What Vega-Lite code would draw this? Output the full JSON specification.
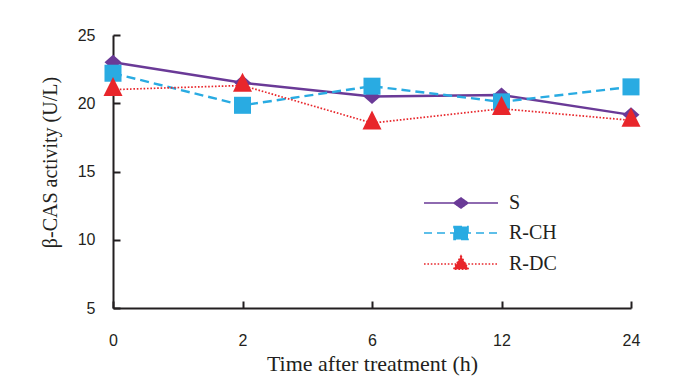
{
  "$schema": "https://vega.github.io/schema/vega-lite/v6.json",
  "width": 518,
  "height": 273,
  "autosize": {"type": "none"},
  "padding": {"left": 113, "top": 35, "right": 44, "bottom": 69},
  "background": "white",
  "config": {"view": {"stroke": null}, "axis": {"grid": false}},
  "data": {
    "values": [
      {"time": 0, "series": "S", "value": 23.0},
      {"time": 2, "series": "S", "value": 21.5},
      {"time": 6, "series": "S", "value": 20.5},
      {"time": 12, "series": "S", "value": 20.6},
      {"time": 24, "series": "S", "value": 19.15},
      {"time": 0, "series": "R-CH", "value": 22.2},
      {"time": 2, "series": "R-CH", "value": 19.85},
      {"time": 6, "series": "R-CH", "value": 21.25},
      {"time": 12, "series": "R-CH", "value": 20.1},
      {"time": 24, "series": "R-CH", "value": 21.2},
      {"time": 0, "series": "R-DC", "value": 21.0},
      {"time": 2, "series": "R-DC", "value": 21.3},
      {"time": 6, "series": "R-DC", "value": 18.55},
      {"time": 12, "series": "R-DC", "value": 19.6},
      {"time": 24, "series": "R-DC", "value": 18.75}
    ]
  },
  "encoding": {
    "x": {
      "field": "time",
      "type": "ordinal",
      "scale": {"type": "point", "domain": [0, 2, 6, 12, 24], "padding": 0},
      "axis": {
        "title": "Time after treatment (h)",
        "titleFont": "Liberation Serif",
        "titleFontSize": 22,
        "titleFontWeight": "normal",
        "titleColor": "#231F20",
        "titleBaseline": "alphabetic",
        "titleY": 62,
        "labelAngle": 0,
        "labelFont": "Liberation Sans",
        "labelFontSize": 16,
        "labelColor": "#231F20",
        "labelPadding": 31,
        "tickSize": -7,
        "tickWidth": 2,
        "tickColor": "#231F20",
        "domainColor": "#231F20",
        "domainWidth": 2
      }
    },
    "y": {
      "field": "value",
      "type": "quantitative",
      "scale": {"domain": [5, 25], "nice": false, "zero": false},
      "axis": {
        "title": "β-CAS activity (U/L)",
        "titleFont": "Liberation Serif",
        "titleFontSize": 20,
        "titleFontWeight": "normal",
        "titleColor": "#231F20",
        "titleAngle": -90,
        "titleBaseline": "alphabetic",
        "titleAlign": "center",
        "titleX": -57,
        "titleY": 127,
        "values": [5, 10, 15, 20, 25],
        "labelFont": "Liberation Sans",
        "labelFontSize": 16,
        "labelColor": "#231F20",
        "labelPadding": 25,
        "tickSize": -7,
        "tickWidth": 2,
        "tickColor": "#231F20",
        "domainColor": "#231F20",
        "domainWidth": 2
      }
    }
  },
  "layer": [
    {
      "transform": [{"filter": "datum.series === 'S'"}],
      "mark": {"type": "line", "stroke": "#6A3A97", "strokeWidth": 2.4},
      "encoding": {}
    },
    {
      "transform": [{"filter": "datum.series === 'S'"}],
      "mark": {"type": "point", "filled": true, "opacity": 1, "color": "#6A3A97", "shape": "M-1,0L0,-0.88L1,0L0,0.88Z", "size": 289},
      "encoding": {}
    },
    {
      "transform": [{"filter": "datum.series === 'R-CH'"}],
      "mark": {"type": "line", "stroke": "#29ABE2", "strokeWidth": 2.4, "strokeDash": [9, 5]},
      "encoding": {}
    },
    {
      "transform": [{"filter": "datum.series === 'R-CH'"}],
      "mark": {"type": "point", "filled": true, "opacity": 1, "color": "#29ABE2", "shape": "square", "size": 290},
      "encoding": {}
    },
    {
      "transform": [{"filter": "datum.series === 'R-DC'"}],
      "mark": {"type": "line", "stroke": "#E8262B", "strokeWidth": 1.7, "strokeDash": [1.6, 1.8]},
      "encoding": {}
    },
    {
      "transform": [{"filter": "datum.series === 'R-DC'"}],
      "mark": {"type": "point", "filled": true, "opacity": 1, "color": "#E8262B", "shape": "M0,-1.33L1,0.67L-1,0.67Z", "size": 361},
      "encoding": {}
    },
    {
      "mark": {"type": "point", "filled": true, "opacity": 0},
      "encoding": {
        "color": {
          "field": "series",
          "type": "nominal",
          "scale": {"domain": ["S", "R-CH", "R-DC"], "range": ["#6A3A97", "#29ABE2", "#E8262B"]},
          "legend": {
            "orient": "none", "legendX": 337, "legendY": 157, "title": null, "padding": 0,
            "labelFont": "Liberation Serif", "labelFontSize": 20, "labelColor": "#231F20", "labelOffset": 37,
            "symbolSize": 400, "symbolOpacity": 1, "rowPadding": 9,
            "encode": {"symbols": {"update": {"stroke": {"scale": "color", "field": "value"}, "strokeWidth": {"value": 1.6}}}}
          }
        },
        "strokeDash": {
          "field": "series",
          "type": "nominal",
          "scale": {"domain": ["S", "R-CH", "R-DC"], "range": [[1, 0], [8, 5], [1.6, 1.8]]},
          "legend": {
            "orient": "none", "legendX": 337, "legendY": 157, "title": null, "padding": 0,
            "labelFont": "Liberation Serif", "labelFontSize": 20, "labelColor": "#231F20", "labelOffset": 37,
            "symbolSize": 400, "symbolOpacity": 1, "rowPadding": 9
          }
        },
        "shape": {
          "field": "series",
          "type": "nominal",
          "scale": {"domain": ["S", "R-CH", "R-DC"], "range": ["M-3.7,0H3.7M-0.7,0L0,-0.5L0.7,0L0,0.5Z", "M-3.7,0H3.7M-0.7,-0.65H0.7V0.65H-0.7Z", "M-3.7,0H3.7M0,-0.8L0.75,0.53L-0.75,0.53Z"]},
          "legend": {
            "orient": "none", "legendX": 337, "legendY": 157, "title": null, "padding": 0,
            "labelFont": "Liberation Serif", "labelFontSize": 20, "labelColor": "#231F20", "labelOffset": 37,
            "symbolSize": 400, "symbolOpacity": 1, "rowPadding": 9
          }
        }
      }
    }
  ]
}
